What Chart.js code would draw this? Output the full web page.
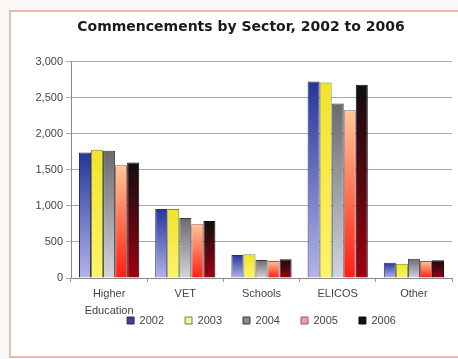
<!DOCTYPE html>
<html>
<head>
<meta charset="utf-8">
<script src="https://cdn.jsdelivr.net/npm/chart.js@4/dist/chart.umd.min.js"></script>
<style>
  html, body { margin: 0; padding: 0; background: #fdf9f7; }
  #wrap { position: relative; width: 458px; height: 359px; overflow: hidden; }
  #frame {
    position: absolute; left: 9px; top: 10px; width: 460px; height: 344px;
    border: 2px solid #f2bba8; background: #ffffff;
  }
  canvas { position: absolute; left: 0; top: 0; }
</style>
</head>
<body>
<div id="wrap">
  <div id="frame"></div>
  <canvas id="chart" width="458" height="359"></canvas>
</div>
<script>
// Commencements by sector, 2002 to 2006
const sectors = [['Higher', 'Education'], 'VET', 'Schools', 'ELICOS', 'Other'];
const years = ['2002', '2003', '2004', '2005', '2006'];

const values2002 = [1740, 958, 319, 2726, 213];
const values2003 = [1778, 958, 329, 2713, 199];
const values2004 = [1764, 833, 250, 2421, 268];
const values2005 = [1565, 746, 236, 2329, 236];
const values2006 = [1601, 792, 260, 2681, 246];

const yTicks = [0, 500, 1000, 1500, 2000, 2500, 3000];

// vertical gradient per bar, from the bar's top down to the baseline
function barFill(top, bottom, flat) {
  return (ctx) => {
    if (ctx.type !== 'data') return flat;
    const chart = ctx.chart;
    const y = chart.scales.y;
    if (!y) return flat;
    const v = ctx.parsed ? ctx.parsed.y : ctx.raw;
    const y0 = y.getPixelForValue(v);
    const y1 = y.getPixelForValue(0);
    const g = chart.ctx.createLinearGradient(0, y0, 0, y1);
    g.addColorStop(0, top);
    g.addColorStop(1, bottom);
    return g;
  };
}

const styles = [
  { top: '#25359a', bottom: '#b4b4ea', legend: '#3a4490', border: '#2a2f60' },
  { top: '#f2e22a', bottom: '#fff36a', legend: '#f3f0a8', border: '#7a8a30' },
  { top: '#6a6a6e', bottom: '#d4d4de', legend: '#8a8a92', border: '#3a3a3a' },
  { top: '#ffc896', bottom: '#ff1e10', legend: '#e8a0a8', border: '#a05060' },
  { top: '#0e0e0e', bottom: '#a00012', legend: '#101010', border: '#101010' }
];

const series = [values2002, values2003, values2004, values2005, values2006];

const datasets = series.map((data, i) => ({
  label: years[i],
  data: data,
  backgroundColor: barFill(styles[i].top, styles[i].bottom, styles[i].legend),
  borderColor: styles[i].border,
  borderWidth: 1,
  categoryPercentage: 0.79,
  barPercentage: 1.0
}));

const tickFont = { family: '"Liberation Sans", Arial, sans-serif', size: 11 };

new Chart(document.getElementById('chart'), {
  type: 'bar',
  data: { labels: sectors, datasets: datasets },
  options: {
    responsive: false,
    animation: false,
    layout: { padding: { left: 30, right: 6, top: 19, bottom: 23 } },
    plugins: {
      title: {
        display: true,
        text: 'Commencements by Sector, 2002 to 2006',
        color: '#1a1a1a',
        font: { family: '"DejaVu Sans", sans-serif', size: 14, weight: 'bold' },
        padding: { top: 0, bottom: 26 }
      },
      legend: {
        position: 'bottom',
        fullSize: false,
        labels: {
          boxWidth: 7,
          boxHeight: 7,
          padding: 21,
          color: '#444',
          font: tickFont,
          generateLabels: (chart) => chart.data.datasets.map((ds, i) => ({
            text: ds.label,
            fillStyle: styles[i].legend,
            strokeStyle: styles[i].border,
            lineWidth: 1,
            fontColor: '#444',
            hidden: !chart.isDatasetVisible(i),
            datasetIndex: i
          }))
        }
      },
      tooltip: { enabled: false }
    },
    scales: {
      x: {
        offset: true,
        // keep the axis band short so the legend sits close under the two-line labels
        afterFit: (scale) => {
          scale.height = 16;
          scale._computeLabelArea = () => undefined;
        },
        grid: {
          display: true,
          drawOnChartArea: false,
          tickLength: 4,
          color: '#9a9a9a',
          offset: true
        },
        border: { color: '#8a8a8a' },
        ticks: {
          color: '#444',
          font: { family: '"Liberation Sans", Arial, sans-serif', size: 11, lineHeight: 1.55 },
          padding: 3,
          maxRotation: 0
        }
      },
      y: {
        min: 0,
        max: 3000,
        afterBuildTicks: (scale) => { scale.ticks = yTicks.map(v => ({ value: v })); },
        afterFit: (scale) => { scale.width = 41; },
        grid: { color: '#a8a8a8', tickLength: 5 },
        border: { color: '#8a8a8a' },
        ticks: {
          color: '#444',
          font: tickFont,
          padding: 3,
          callback: (v) => Number(v).toLocaleString('en-US')
        }
      }
    }
  }
});
</script>
</body>
</html>
